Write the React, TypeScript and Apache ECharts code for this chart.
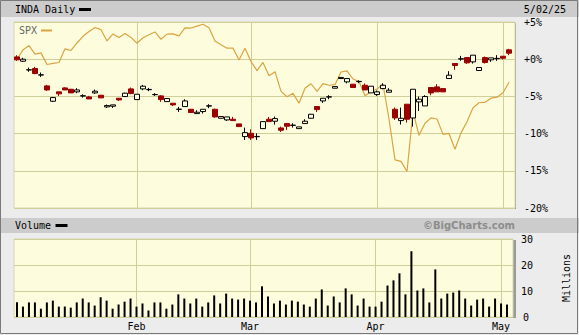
import React, { useEffect, useRef } from 'react';
import * as echarts from 'echarts';

// INDA daily candles, % change vs. Jan 2 2025 (index 0 = Jan 2, 82 = May 2)
const inOpen = [
  0.31, -0.27, -1.45, -1.26, -2.13, -3.59, -5.65, -4.39, -3.86, -4.04,
  -4.39, -4.95, -5.07, -4.53, -4.84, -6.41, -6.32, -5.25, -5.02, -3.99,
  -5.43, -3.99, -4.10, -4.77, -4.93, -5.70, -5.92, -6.75, -6.37, -6.73,
  -7.31, -7.04, -6.30, -6.73, -7.94, -8.16, -8.07, -8.70, -10.40, -9.96,
  -10.42, -9.33, -8.07, -8.34, -9.24, -8.65, -8.90, -9.33, -8.65, -7.94,
  -6.37, -5.61, -5.09, -3.90, -2.60, -3.05, -3.36, -3.02, -3.50, -4.53,
  -4.75, -3.95, -4.44, -6.73, -8.25, -6.05, -7.90, -5.74, -6.28, -3.81,
  -3.72, -3.95, -2.60, -0.58, 0.02, 0.22, -0.36, -1.52, 0.22, -0.09,
  0.07, 0.40, 1.26,
];
const inClose = [
  -0.09, 0.0, -1.42, -1.93, -2.10, -4.13, -5.16, -4.66, -4.13, -4.53,
  -4.13, -4.91, -5.34, -4.30, -5.20, -6.23, -6.14, -5.47, -4.57, -4.62,
  -4.71, -3.63, -4.06, -4.74, -5.43, -5.29, -6.14, -6.71, -5.61, -7.17,
  -7.13, -6.73, -6.26, -7.76, -7.71, -7.76, -8.25, -9.06, -9.87, -10.58,
  -10.38, -8.39, -8.39, -7.98, -9.55, -9.01, -8.86, -9.10, -8.34, -7.40,
  -6.77, -5.25, -5.05, -3.68, -2.45, -2.60, -3.81, -2.98, -4.13, -3.63,
  -4.39, -3.50, -4.17, -7.89, -7.94, -8.07, -4.04, -5.38, -5.02, -4.53,
  -4.39, -4.39, -2.15, -0.85, 0.06, -0.49, 0.54, -1.12, -0.45, 0.18,
  0.11, 0.13, 0.81,
];
const inLow = [
  -0.22, -0.36, -1.70, -2.02, -2.38, -4.26, -5.74, -4.93, -4.13, -4.53,
  -4.57, -5.16, -5.34, -4.66, -5.20, -6.55, -6.55, -5.61, -5.05, -4.71,
  -5.43, -4.17, -4.30, -4.93, -5.74, -5.70, -6.28, -7.09, -6.37, -7.20,
  -7.31, -7.31, -6.59, -7.85, -7.94, -8.30, -8.25, -9.06, -10.85, -10.85,
  -10.85, -9.33, -8.39, -8.79, -9.78, -9.51, -9.19, -9.33, -8.65, -7.94,
  -7.09, -5.87, -5.38, -3.90, -2.60, -3.25, -3.81, -3.23, -4.13, -4.53,
  -4.93, -4.04, -4.44, -8.16, -8.79, -8.52, -9.06, -6.95, -6.28, -4.84,
  -4.39, -4.39, -2.60, -1.43, -0.22, -0.63, -0.58, -1.52, -0.58, -0.36,
  -0.22, -0.04, 0.54,
];
const inHigh = [
  0.54, 0.18, -1.12, -1.03, -1.79, -3.45, -5.07, -4.39, -3.77, -4.00,
  -3.90, -4.71, -4.93, -4.08, -4.84, -6.10, -6.14, -5.25, -4.50, -3.81,
  -4.71, -3.45, -3.86, -4.57, -4.84, -5.29, -5.92, -6.41, -5.38, -6.70,
  -6.86, -6.73, -6.05, -6.65, -7.71, -7.76, -7.76, -8.70, -9.19, -9.42,
  -9.96, -8.39, -7.76, -7.71, -9.06, -8.65, -8.61, -9.10, -8.07, -7.40,
  -6.37, -5.25, -4.84, -3.68, -2.45, -2.60, -3.36, -2.83, -3.27, -3.63,
  -4.21, -3.23, -3.90, -6.50, -6.50, -6.05, -4.04, -5.02, -4.84, -3.81,
  -3.36, -3.95, -1.61, -0.58, 0.45, 0.22, 0.54, -1.12, 0.36, 0.18,
  0.54, 0.40, 1.39,
];

// SPX, % change vs. Jan 2 2025
const spx = [
  0.0, 1.26, 1.82, 0.69, 0.85, -0.71, -0.55, -0.44, 1.39, 1.17,
  2.18, 3.08, 3.71, 4.26, 3.97, 2.45, 3.39, 2.91, 3.45, 2.93,
  2.15, 2.89, 3.29, 3.66, 2.68, 3.37, 3.41, 3.13, 4.20, 4.19,
  4.45, 4.70, 4.24, 2.46, 1.95, 1.48, 1.49, -0.12, 1.46, -0.32,
  -1.54, -0.44, -2.22, -1.68, -4.33, -5.05, -4.59, -5.91, -3.91, -3.30,
  -4.33, -3.29, -3.50, -3.42, -1.72, -1.57, -2.66, -2.99, -4.90, -4.37,
  -4.01, -3.37, -8.04, -13.54, -13.74, -15.09, -7.01, -10.23, -8.61, -7.88,
  -8.04, -10.10, -9.98, -12.10, -9.90, -8.40, -6.54, -5.85, -5.79, -5.24,
  -5.10, -4.51, -3.10,
];

// Volume, millions of shares
const volume = [
  5.7, 4.0, 5.6, 5.6, 3.2, 5.6, 6.3, 4.0, 4.0, 3.6,
  5.6, 7.1, 5.6, 4.4, 7.6, 6.3, 3.2, 4.8, 5.9, 7.1,
  4.0, 5.2, 2.5, 5.6, 5.6, 3.2, 4.8, 8.7, 7.1, 5.2,
  7.1, 4.0, 5.6, 8.3, 5.2, 9.0, 7.1, 6.7, 7.1, 6.3,
  5.6, 11.8, 7.9, 5.2, 6.3, 4.8, 6.3, 5.9, 4.8, 4.0,
  7.1, 10.6, 4.4, 7.9, 5.6, 11.0, 8.7, 4.4, 7.1, 4.0,
  4.0, 5.9, 12.1, 14.1, 16.8, 8.7, 25.3, 10.2, 11.0, 5.6,
  18.3, 7.1, 9.0, 9.4, 10.2, 7.1, 4.4, 6.7, 7.1, 4.0,
  7.1, 5.2, 4.8,
];

const monthNames = ['Feb', 'Mar', 'Apr', 'May'];
const monthStarts = [20, 39, 60, 81];
const volumeMinLabel = '0';
const title = 'INDA Daily';
const compareName = 'SPX';
const dateLabel = '5/02/25';
const volumeTitle = 'Volume';
const credit = '\u00A9BigCharts.com';
const volumeUnit = 'Millions';

const mono = 'DejaVu Sans Mono';
const gridColor = '#cfcf9a';
const plotBg = '#fdfdde';
const red = '#9b0000';
const gold = '#d9a441';

export default function App() {
  const ref = useRef<HTMLDivElement>(null);
  useEffect(() => {
    document.body.style.margin = '0';
    const chart = echarts.init(ref.current!, null, { renderer: 'svg' });
    const candles = inOpen.map((o, i) => [i, o, inClose[i], inLow[i], inHigh[i]]);
    const spxData = spx.map((v, i) => [i, v]);
    const volData = volume.map((v, i) => [i, v]);

    const xCommon = {
      type: 'value' as const,
      min: -0.5,
      max: 83,
      axisLine: { show: false },
      axisTick: { show: false, customValues: monthStarts },
      splitLine: { show: true, lineStyle: { color: gridColor, width: 1 } },
    };

    const option: any = {
      animation: false,
      backgroundColor: '#ececec',
      grid: [
        { left: 14, top: 22, width: 501, height: 186, show: true, backgroundColor: plotBg, borderColor: '#d6d6b0', borderWidth: 1 },
        { left: 14, top: 239, width: 501, height: 78, show: true, backgroundColor: plotBg, borderColor: '#d6d6b0', borderWidth: 1 },
      ],
      xAxis: [
        { ...xCommon, gridIndex: 0, axisLabel: { show: false, customValues: monthStarts } },
        {
          ...xCommon,
          gridIndex: 1,
          axisLabel: {
            show: true,
            customValues: monthStarts,
            formatter: (v: number) => monthNames[monthStarts.indexOf(v)] ?? '',
            fontFamily: mono,
            fontSize: 10,
            color: '#000',
            margin: 4,
          },
        },
      ],
      yAxis: [
        {
          type: 'value',
          gridIndex: 0,
          position: 'right',
          min: -20,
          max: 5,
          interval: 5,
          axisLine: { show: false },
          axisTick: { show: false },
          axisLabel: {
            formatter: (v: number) => (v >= 0 ? '+' : '') + v + '%',
            fontFamily: mono,
            fontSize: 10,
            color: '#000',
            margin: 9,
            showMinLabel: true,
            showMaxLabel: true,
          },
          splitLine: { lineStyle: { color: gridColor } },
        },
        {
          type: 'value',
          gridIndex: 1,
          position: 'right',
          min: 0,
          max: 30,
          interval: 10,
          axisLine: { show: false },
          axisTick: { show: false },
          axisLabel: {
            fontFamily: mono,
            fontSize: 10,
            color: '#000',
            margin: 8,
            showMaxLabel: true,
            formatter: (v: number) => (v === 0 ? '' : String(v)),
          },
          splitLine: { lineStyle: { color: gridColor } },
          name: volumeUnit,
          nameLocation: 'middle',
          nameGap: 48,
          nameRotate: 90,
          nameTextStyle: { fontFamily: mono, fontSize: 10, color: '#000' },
        },
      ],
      series: [
        {
          type: 'line',
          xAxisIndex: 0,
          yAxisIndex: 0,
          data: spxData,
          symbol: 'none',
          lineStyle: { color: gold, width: 1.2 },
          z: 1,
        },
        {
          type: 'candlestick',
          xAxisIndex: 0,
          yAxisIndex: 0,
          data: candles,
          encode: { x: 0, y: [1, 2, 3, 4] },
          barWidth: 5,
          itemStyle: {
            color: plotBg,
            color0: red,
            borderColor: '#000',
            borderColor0: red,
            borderWidth: 1,
          },
          z: 3,
        },
        {
          type: 'bar',
          xAxisIndex: 1,
          yAxisIndex: 1,
          data: volData,
          barWidth: 2,
          itemStyle: { color: '#000' },
        },
      ],
      graphic: [
        { type: 'rect', z: -10, shape: { x: 0, y: 0, width: 579, height: 17 }, style: { fill: '#cccccc' } },
        { type: 'rect', z: -10, shape: { x: 0, y: 218, width: 579, height: 15 }, style: { fill: '#cccccc' } },
        { type: 'rect', z: -10, shape: { x: 15, y: 23, width: 501, height: 186 }, style: { fill: '#9a9a9a' } },
        { type: 'rect', z: -10, shape: { x: 15, y: 240, width: 501, height: 78 }, style: { fill: '#9a9a9a' } },
        { type: 'rect', z: 20, shape: { x: 0.5, y: 0.5, width: 577, height: 333 }, style: { fill: 'none', stroke: '#7a7a7a', lineWidth: 1 } },
        { type: 'text', z: 20, x: 15, y: 9.5, style: { text: title, font: `10px "${mono}"`, fill: '#000', verticalAlign: 'middle' } },
        { type: 'rect', z: 20, shape: { x: 79, y: 8, width: 12, height: 3 }, style: { fill: '#000' } },
        { type: 'text', z: 20, x: 566, y: 9.5, style: { text: dateLabel, font: `10px "${mono}"`, fill: '#000', align: 'right', verticalAlign: 'middle' } },
        { type: 'text', z: 20, x: 19, y: 30.5, style: { text: compareName, font: `10px "${mono}"`, fill: '#666', verticalAlign: 'middle' } },
        { type: 'rect', z: 20, shape: { x: 41, y: 29.5, width: 11, height: 2 }, style: { fill: gold } },
        { type: 'text', z: 20, x: 15, y: 225.5, style: { text: volumeTitle, font: `10px "${mono}"`, fill: '#000', verticalAlign: 'middle' } },
        { type: 'rect', z: 20, shape: { x: 55.5, y: 224, width: 12, height: 3 }, style: { fill: '#000' } },
        { type: 'text', z: 20, x: 515, y: 225.5, style: { text: credit, font: 'bold 10px "DejaVu Sans"', fill: '#8c8c8c', align: 'right', verticalAlign: 'middle' } },
        { type: 'text', z: 20, x: 523, y: 317, style: { text: volumeMinLabel, font: `10px "${mono}"`, fill: '#000', verticalAlign: 'middle' } },
      ],
    };
    chart.setOption(option);
    return () => chart.dispose();
  }, []);
  return <div ref={ref} style={{ width: 579, height: 335 }} />;
}
